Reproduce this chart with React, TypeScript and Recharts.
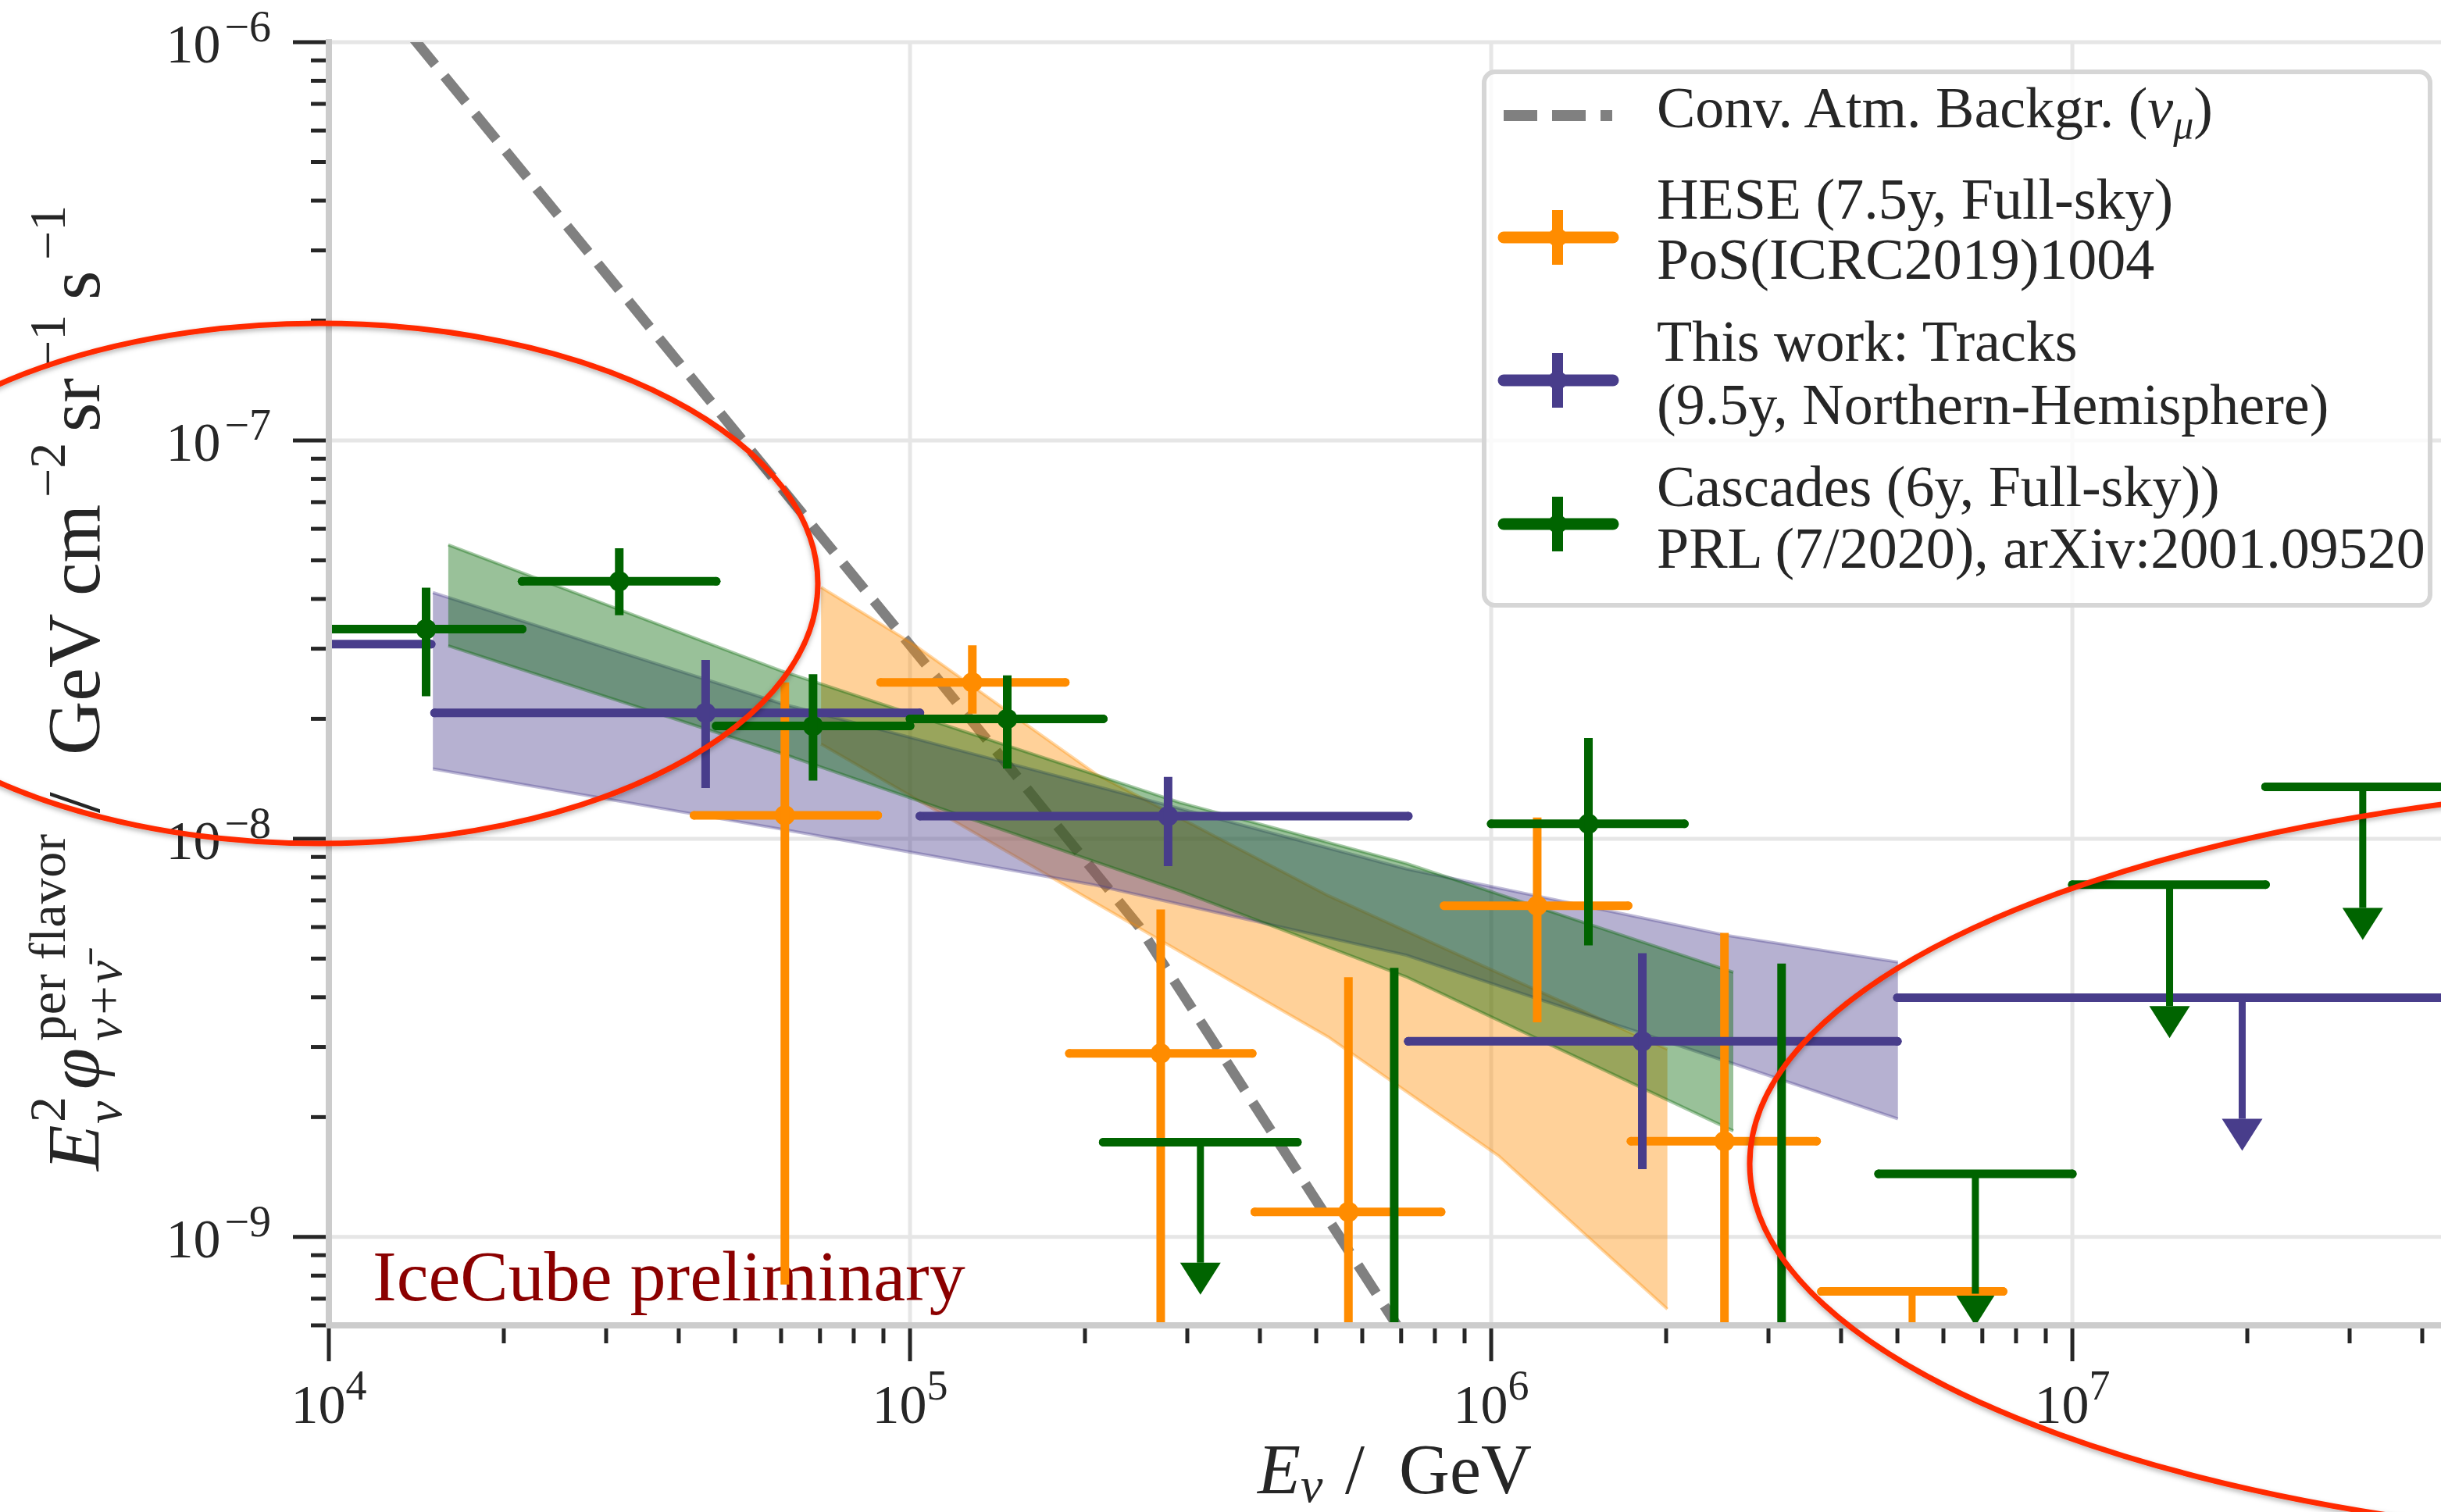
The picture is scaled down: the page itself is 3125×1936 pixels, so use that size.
import React from 'react';
import {
  ComposedChart,
  XAxis,
  YAxis,
  CartesianGrid,
  Scatter,
  ErrorBar,
  Line,
  Area,
  Legend,
  Label,
} from 'recharts';

const FONT = '"Liberation Serif", "DejaVu Serif", serif';
const INK = '#262626';
const SPINE = '#cccccc';
const GRID = '#e6e6e6';
const HESE_COLOR = '#ff8c00';
const TRACKS_COLOR = '#483d8b';
const CASCADES_COLOR = '#006400';
const ATM_COLOR = '#808080';

// chart frame
const CHART_W = 3240;
const CHART_H = 1936;
const MARGIN = { top: 54, right: 8, bottom: 0, left: 0 };
const Y_AXIS_W = 421;
const X_AXIS_H = 239;
const PLOT = {
  x: MARGIN.left + Y_AXIS_W,
  y: MARGIN.top,
  width: CHART_W - MARGIN.left - MARGIN.right - Y_AXIS_W,
  height: CHART_H - MARGIN.top - MARGIN.bottom - X_AXIS_H,
};

// axis ranges: energy in GeV, flux in GeV cm^-2 sr^-1 s^-1
const energyDomain = [1e4, 6e7];
const fluxDomain = [6e-10, 1e-6];
const energyDecades = [1e4, 1e5, 1e6, 1e7];
const fluxDecades = [1e-9, 1e-8, 1e-7, 1e-6];
const minorSteps = [2, 3, 4, 5, 6, 7, 8, 9];

// conventional atmospheric background (nu_mu)
const atmEnergy = [1.4e4, 1.01e5, 2.48e5, 5.24e5, 7.5e5];
const atmFlux = [1.02e-6, 3.01e-8, 6.01e-9, 1.11e-9, 4.95e-10];

// HESE 7.5 yr unfolding
const heseEnergy = [6.09e4, 1.28e5, 2.7e5, 5.68e5, 1.2e6, 2.52e6];
const heseEnergyLow = [4.25e4, 8.9e4, 1.88e5, 3.92e5, 8.3e5, 1.74e6];
const heseEnergyHigh = [8.8e4, 1.85e5, 3.88e5, 8.2e5, 1.72e6, 3.63e6];
const heseFlux = [1.145e-8, 2.47e-8, 2.89e-9, 1.156e-9, 6.79e-9, 1.74e-9];
const heseFluxLow = [7.6e-10, 2.06e-8, 1e-10, 1e-10, 3.46e-9, 1e-10];
const heseFluxHigh = [2.47e-8, 3.06e-8, 6.64e-9, 4.49e-9, 1.13e-8, 5.8e-9];
const heseLimitEnergy = [5.3e6];
const heseLimitLow = [3.7e6];
const heseLimitHigh = [7.6e6];
const heseLimitFlux = [7.3e-10];
const heseLimitEnd = [3.65e-10];
const heseBandEnergy = [7.03e4, 1.01e5, 2.09e5, 3.41e5, 5.24e5, 1.03e6, 2.01e6];
const heseBandLow = [1.728e-8, 1.273e-8, 6.89e-9, 4.56e-9, 3.18e-9, 1.598e-9, 6.59e-10];
const heseBandHigh = [4.28e-8, 3.09e-8, 1.453e-8, 1.0e-8, 7.2e-9, 4.6e-9, 2.96e-9];

// through-going tracks, 9.5 yr northern sky
const tracksEnergy = [8.7e3, 4.45e4, 2.78e5, 1.82e6];
const tracksEnergyLow = [2.2e3, 1.52e4, 1.04e5, 7.2e5];
const tracksEnergyHigh = [1.5e4, 1.04e5, 7.2e5, 5.0e6];
const tracksFlux = [3.08e-8, 2.07e-8, 1.14e-8, 3.1e-9];
const tracksFluxLow = [2.2e-8, 1.34e-8, 8.53e-9, 1.48e-9];
const tracksFluxHigh = [4.2e-8, 2.81e-8, 1.43e-8, 5.16e-9];
const tracksLimitEnergy = [1.96e7];
const tracksLimitLow = [5.0e6];
const tracksLimitHigh = [7.7e7];
const tracksLimitFlux = [3.99e-9];
const tracksLimitEnd = [1.98e-9];
const tracksBandEnergy = [1.51e4, 6.0e4, 2.06e5, 7.14e5, 2.54e6, 5.01e6];
const tracksBandLow = [1.497e-8, 1.057e-8, 7.67e-9, 5.1e-9, 2.76e-9, 1.98e-9];
const tracksBandHigh = [4.15e-8, 2.186e-8, 1.362e-8, 8.4e-9, 5.72e-9, 4.9e-9];

// cascades, 6 yr full sky
const cascadesEnergy = [1.47e4, 3.16e4, 6.81e4, 1.47e5, 6.81e5, 1.47e6, 3.16e6];
const cascadesEnergyLow = [9.9e3, 2.15e4, 4.64e4, 1.0e5, 4.64e5, 1.0e6, 2.15e6];
const cascadesEnergyHigh = [2.15e4, 4.64e4, 1.0e5, 2.15e5, 1.0e6, 2.15e6, 4.64e6];
const cascadesFlux = [3.36e-8, 4.43e-8, 1.92e-8, 2.0e-8, 2.5e-10, 1.09e-8, 2.5e-10];
const cascadesFluxLow = [2.28e-8, 3.64e-8, 1.4e-8, 1.5e-8, 1e-10, 5.4e-9, 1e-10];
const cascadesFluxHigh = [4.27e-8, 5.36e-8, 2.59e-8, 2.57e-8, 4.74e-9, 1.79e-8, 4.86e-9];
const cascadesLimitEnergy = [3.16e5, 6.81e6, 1.47e7, 3.16e7];
const cascadesLimitLow = [2.15e5, 4.64e6, 1.0e7, 2.15e7];
const cascadesLimitHigh = [4.64e5, 1.0e7, 2.15e7, 4.64e7];
const cascadesLimitFlux = [1.73e-9, 1.44e-9, 7.67e-9, 1.35e-8];
const cascadesLimitEnd = [8.62e-10, 7.2e-10, 3.8e-9, 6.7e-9];
const cascadesBandEnergy = [1.605e4, 6.0e4, 1.32e5, 2.91e5, 7.14e5, 2.61e6];
const cascadesBandLow = [3.05e-8, 1.639e-8, 1.101e-8, 7.4e-9, 4.5e-9, 1.846e-9];
const cascadesBandHigh = [5.47e-8, 2.64e-8, 1.804e-8, 1.233e-8, 8.67e-9, 4.62e-9];

const energyTicks = energyDecades
  .flatMap((d) => [d, ...minorSteps.map((m) => d * m)])
  .filter((v) => v <= energyDomain[1] * 1.0001);
const fluxTicks = [1e-10, ...fluxDecades]
  .flatMap((d) => [d, ...minorSteps.map((m) => d * m)])
  .filter((v) => v >= fluxDomain[0] * 0.9999 && v <= fluxDomain[1] * 1.0001);

type Point = { x: number; y: number; xErr?: number[]; yErr?: number[] };

const withErrors = (e: number[], eLo: number[], eHi: number[], f: number[], fLo: number[], fHi: number[]): Point[] =>
  e.map((x, i) => ({ x, y: f[i], xErr: [x - eLo[i], eHi[i] - x], yErr: [f[i] - fLo[i], fHi[i] - f[i]] }));

const upperLimits = (e: number[], eLo: number[], eHi: number[], f: number[], end: number[]): Point[] =>
  e.map((x, i) => ({ x, y: f[i], xErr: [x - eLo[i], eHi[i] - x], yErr: [f[i] - end[i], 0] }));

const pairs = (e: number[], f: number[]): Point[] => e.map((x, i) => ({ x, y: f[i] }));

const band = (e: number[], lo: number[], hi: number[]) => e.map((x, i) => ({ x, range: [lo[i], hi[i]] }));

const atmData = pairs(atmEnergy, atmFlux);

const datasets = [
  {
    name: 'hese',
    color: HESE_COLOR,
    points: withErrors(heseEnergy, heseEnergyLow, heseEnergyHigh, heseFlux, heseFluxLow, heseFluxHigh),
    limits: upperLimits(heseLimitEnergy, heseLimitLow, heseLimitHigh, heseLimitFlux, heseLimitEnd),
    arrows: pairs(heseLimitEnergy, heseLimitEnd),
    band: band(heseBandEnergy, heseBandLow, heseBandHigh),
  },
  {
    name: 'tracks',
    color: TRACKS_COLOR,
    points: withErrors(tracksEnergy, tracksEnergyLow, tracksEnergyHigh, tracksFlux, tracksFluxLow, tracksFluxHigh),
    limits: upperLimits(tracksLimitEnergy, tracksLimitLow, tracksLimitHigh, tracksLimitFlux, tracksLimitEnd),
    arrows: pairs(tracksLimitEnergy, tracksLimitEnd),
    band: band(tracksBandEnergy, tracksBandLow, tracksBandHigh),
  },
  {
    name: 'cascades',
    color: CASCADES_COLOR,
    points: withErrors(cascadesEnergy, cascadesEnergyLow, cascadesEnergyHigh, cascadesFlux, cascadesFluxLow, cascadesFluxHigh),
    limits: upperLimits(cascadesLimitEnergy, cascadesLimitLow, cascadesLimitHigh, cascadesLimitFlux, cascadesLimitEnd),
    arrows: pairs(cascadesLimitEnergy, cascadesLimitEnd),
    band: band(cascadesBandEnergy, cascadesBandLow, cascadesBandHigh),
  },
];

const isDecade = (v: number) => Math.abs(Math.log10(v) - Math.round(Math.log10(v))) < 1e-6;
const exponent = (v: number) => String(Math.round(Math.log10(v))).replace('-', '\u2212');

const renderEnergyTick = (props: any) => {
  const { x, y, payload } = props;
  const major = isDecade(payload.value);
  return (
    <g>
      <line x1={x} x2={x} y1={y + 4} y2={y + (major ? 46 : 23)} stroke={INK} strokeWidth={5} />
      {major && (
        <text x={x} y={y + 125} textAnchor="middle" fontFamily={FONT} fontSize={70} fill={INK}>
          10
          <tspan fontSize={54} dy={-30}>
            {exponent(payload.value)}
          </tspan>
        </text>
      )}
    </g>
  );
};

const renderFluxTick = (props: any) => {
  const { x, y, payload } = props;
  const major = isDecade(payload.value);
  return (
    <g>
      <line x1={x - 4} x2={x - (major ? 46 : 23)} y1={y} y2={y} stroke={INK} strokeWidth={5} />
      {major && (
        <text x={x - 74} y={y + 26} textAnchor="end" fontFamily={FONT} fontSize={70} fill={INK}>
          10
          <tspan fontSize={56} dy={-27} dx={5}>
            {exponent(payload.value)}
          </tspan>
        </text>
      )}
    </g>
  );
};

const renderEnergyTitle = (props: any) => {
  const { x, y } = props.viewBox;
  return (
    <text y={y + 215} fontFamily={FONT} fontSize={90} fill={INK}>
      <tspan x={x + 1189} fontStyle="italic">E</tspan>
      <tspan x={x + 1244} dy={11} fontSize={64} fontStyle="italic">ν</tspan>
      <tspan x={x + 1301} dy={-11}>/</tspan>
      <tspan x={x + 1370}>GeV</tspan>
    </text>
  );
};

// rotated title, pieces placed along the text direction
const renderFluxTitle = () => (
  <g transform="translate(127 881) rotate(-90)" fontFamily={FONT} fill={INK}>
    <text x={-618} y={0} fontSize={96} fontStyle="italic">E</text>
    <text x={-556} y={-44} fontSize={66}>2</text>
    <text x={-558} y={28} fontSize={66} fontStyle="italic">ν</text>
    <text x={-514} y={0} fontSize={96} fontStyle="italic">φ</text>
    <text x={-452} y={-44} fontSize={66} textLength={265} lengthAdjust="spacing">per flavor</text>
    <text x={-452} y={28} fontSize={66} fontStyle="italic">ν+ν̄</text>
    <text x={-160} y={0} fontSize={96}>/</text>
    <text x={-86} y={0} fontSize={96}>GeV</text>
    <text x={118} y={0} fontSize={96}>cm</text>
    <text x={244} y={-44} fontSize={66}>−2</text>
    <text x={328} y={0} fontSize={96}>sr</text>
    <text x={408} y={-44} fontSize={66}>−1</text>
    <text x={497} y={0} fontSize={96}>s</text>
    <text x={548} y={-44} fontSize={66}>−1</text>
  </g>
);

const dotShape = (color: string) => (p: any) => <circle cx={p.cx} cy={p.cy} r={13} fill={color} />;
const emptyShape = () => <g />;
const caretShape = (color: string) => (p: any) => (
  <path d={`M${p.cx - 26},${p.cy} L${p.cx + 26},${p.cy} L${p.cx},${p.cy + 41} Z`} fill={color} />
);

const legendEntries = [
  { color: HESE_COLOR, lines: ['HESE (7.5y, Full-sky)', 'PoS(ICRC2019)1004'], marker: 215, base: [191, 268] },
  { color: TRACKS_COLOR, lines: ['This work: Tracks', '(9.5y, Northern-Hemisphere)'], marker: 398, base: [373, 454] },
  { color: CASCADES_COLOR, lines: ['Cascades (6y, Full-sky))', 'PRL (7/2020), arXiv:2001.09520'], marker: 582, base: [559, 638] },
];

const renderLegend = () => (
  <svg width={1217} height={689} style={{ display: 'block' }} fontFamily={FONT}>
    <rect x={3} y={3} width={1211} height={683} rx={14} fill="#ffffff" fillOpacity={0.8} stroke="#d6d6d6" strokeWidth={6} />
    <line x1={28} x2={167} y1={59} y2={59} stroke={ATM_COLOR} strokeWidth={14} strokeDasharray="43 19" />
    <text x={224} y={74} fontSize={74} fill={INK}>
      Conv. Atm. Backgr. (<tspan fontStyle="italic">ν</tspan>
      <tspan fontStyle="italic" fontSize={52} dy={14}>μ</tspan>
      <tspan dy={-14}>)</tspan>
    </text>
    {legendEntries.map((entry) => (
      <g key={entry.lines[0]}>
        <line x1={28} x2={168} y1={entry.marker} y2={entry.marker} stroke={entry.color} strokeWidth={15} strokeLinecap="round" />
        <line x1={97} x2={97} y1={entry.marker - 35} y2={entry.marker + 35} stroke={entry.color} strokeWidth={14} />
        <circle cx={97} cy={entry.marker} r={12} fill={entry.color} />
        {entry.lines.map((line, i) => (
          <text key={line} x={224} y={entry.base[i]} fontSize={74} fill={INK}>
            {line}
          </text>
        ))}
      </g>
    ))}
  </svg>
);

// keep the point series (and their error bars) inside the axes box
const clipCss = `
.recharts-scatter, .recharts-errorBars { clip-path: url(#plot-box); }
`;

export default function App() {
  return (
    <div
      style={{
        position: 'absolute',
        left: 0,
        top: 0,
        width: 3125,
        height: 1936,
        overflow: 'hidden',
        background: '#ffffff',
      }}
    >
      <style>{clipCss}</style>
      <ComposedChart width={CHART_W} height={CHART_H} margin={MARGIN}>
        <defs>
          <clipPath id="plot-box">
            <rect x={PLOT.x} y={PLOT.y} width={PLOT.width} height={PLOT.height} />
          </clipPath>
        </defs>
        <text x={477} y={1665} fontFamily={FONT} fontSize={92} fill="#8b0000">
          IceCube preliminary
        </text>
        <CartesianGrid verticalValues={energyDecades} horizontalValues={fluxDecades} stroke={GRID} strokeWidth={5} />

        <Line
          data={atmData}
          dataKey="y"
          type="linear"
          stroke={ATM_COLOR}
          strokeWidth={13}
          strokeDasharray="43 19"
          dot={false}
          activeDot={false}
          isAnimationActive={false}
          zIndex={50}
        />

        {datasets.map((ds) => (
          <Area
            key={`${ds.name}-band`}
            data={ds.band}
            dataKey="range"
            type="linear"
            stroke={ds.color}
            strokeOpacity={0.35}
            strokeWidth={4}
            fill={ds.color}
            fillOpacity={0.4}
            dot={false}
            activeDot={false}
            isAnimationActive={false}
            zIndex={100}
          />
        ))}

        {datasets.flatMap((ds) => [
          <Scatter
            key={`${ds.name}-points`}
            data={ds.points}
            dataKey="y"
            shape={dotShape(ds.color)}
            isAnimationActive={false}
            zIndex={300}
          >
            <ErrorBar dataKey="xErr" direction="x" width={0} stroke={ds.color} strokeWidth={11} strokeLinecap="round" isAnimationActive={false} />
            <ErrorBar dataKey="yErr" direction="y" width={0} stroke={ds.color} strokeWidth={11} isAnimationActive={false} />
          </Scatter>,
          <Scatter
            key={`${ds.name}-limits`}
            data={ds.limits}
            dataKey="y"
            shape={emptyShape}
            isAnimationActive={false}
            zIndex={300}
          >
            <ErrorBar dataKey="xErr" direction="x" width={0} stroke={ds.color} strokeWidth={11} strokeLinecap="round" isAnimationActive={false} />
            <ErrorBar dataKey="yErr" direction="y" width={0} stroke={ds.color} strokeWidth={9} isAnimationActive={false} />
          </Scatter>,
          <Scatter
            key={`${ds.name}-arrows`}
            data={ds.arrows}
            dataKey="y"
            shape={caretShape(ds.color)}
            isAnimationActive={false}
            zIndex={300}
          />,
        ])}

        <XAxis
          dataKey="x"
          type="number"
          scale="log"
          domain={energyDomain}
          allowDataOverflow
          ticks={energyTicks}
          interval={0}
          tick={renderEnergyTick}
          tickLine={false}
          tickSize={0}
          tickMargin={0}
          height={X_AXIS_H}
          axisLine={{ stroke: SPINE, strokeWidth: 8, strokeLinecap: 'square' }}
        >
          <Label content={renderEnergyTitle} />
        </XAxis>
        <XAxis
          xAxisId="top"
          orientation="top"
          dataKey="x"
          type="number"
          scale="log"
          domain={energyDomain}
          allowDataOverflow
          height={0}
          tick={false}
          tickLine={false}
          axisLine={{ stroke: SPINE, strokeWidth: 8, strokeLinecap: 'square' }}
        />
        <YAxis
          dataKey="y"
          type="number"
          scale="log"
          domain={fluxDomain}
          allowDataOverflow
          ticks={fluxTicks}
          interval={0}
          tick={renderFluxTick}
          tickLine={false}
          tickSize={0}
          tickMargin={0}
          width={Y_AXIS_W}
          axisLine={{ stroke: SPINE, strokeWidth: 8, strokeLinecap: 'square' }}
        >
          <Label content={renderFluxTitle} />
        </YAxis>

        <Legend
          layout="vertical"
          align="center"
          verticalAlign="middle"
          content={renderLegend}
          wrapperStyle={{ left: 1897, top: 89, width: 1217, height: 689 }}
        />
      </ComposedChart>

      <svg
        width={3125}
        height={1936}
        style={{ position: 'absolute', left: 0, top: 0, pointerEvents: 'none' }}
      >
        <defs>
          <filter id="markerShadow" x="-10%" y="-10%" width="120%" height="120%">
            <feDropShadow dx="0" dy="3" stdDeviation="3" floodColor="#000000" floodOpacity="0.3" />
          </filter>
        </defs>
        <ellipse cx={409} cy={747} rx={638} ry={333} fill="none" stroke="#ff2a00" strokeWidth={7} filter="url(#markerShadow)" />
        <ellipse cx={3591} cy={1490} rx={1351} ry={490} fill="none" stroke="#ff2a00" strokeWidth={7} filter="url(#markerShadow)" />
      </svg>
    </div>
  );
}
